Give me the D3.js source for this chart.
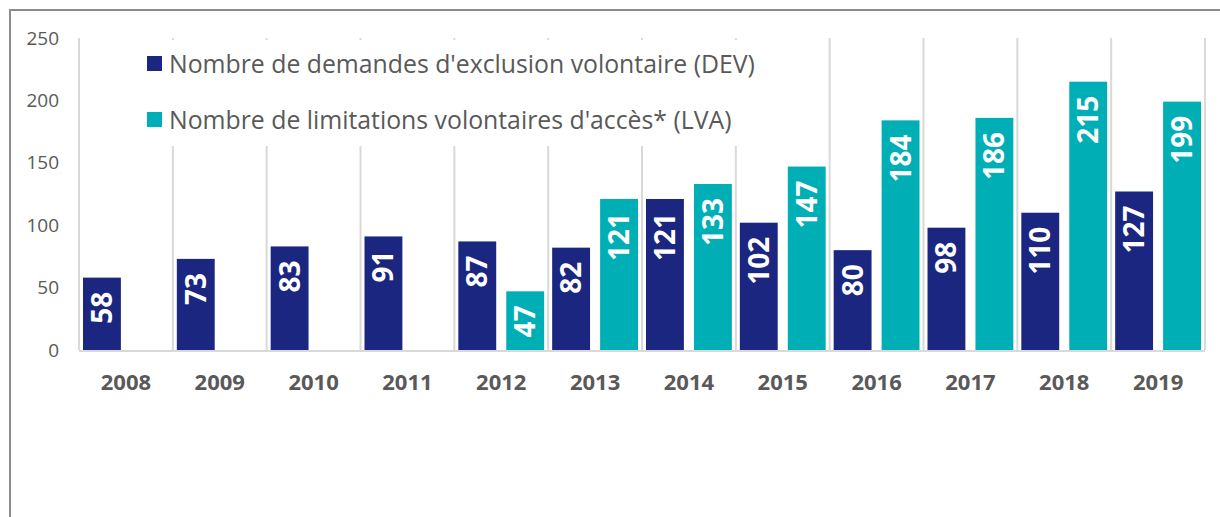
<!DOCTYPE html>
<html>
<head>
<meta charset="utf-8">
<script src="https://cdn.jsdelivr.net/npm/d3@7"></script>
<style>
  body { margin: 0; background: #fff; }
  svg text { font-family: "Open Sans", "Segoe UI", sans-serif; }
</style>
</head>
<body>
<svg id="chart"></svg>
<script>
// data
var years = ["2008", "2009", "2010", "2011", "2012", "2013", "2014", "2015", "2016", "2017", "2018", "2019"];
var devValues = [58, 73, 83, 91, 87, 82, 121, 102, 80, 98, 110, 127];
var lvaValues = [null, null, null, null, 47, 121, 133, 147, 184, 186, 215, 199];
var yTicks = [0, 50, 100, 150, 200, 250];
var seriesNames = ["Nombre de demandes d'exclusion volontaire (DEV)", "Nombre de limitations volontaires d'accès* (LVA)"];
var seriesKeys = ["dev", "lva"];
var seriesColors = ["#1a267f", "#00aeb6"];

var width = 1220, height = 517;
var margin = {left: 79, right: 15, top: 38, bottom: 167};

var svg = d3.select('#chart')
    .attr('width', width)
    .attr('height', height);

// outer frame
svg.append('rect')
    .attr('x', 10).attr('y', 10)
    .attr('width', width).attr('height', height)
    .style('fill', 'none')
    .style('stroke', '#8c8c8c')
    .style('stroke-width', 2);

var rows = years.map(function (y, i) {
    return {year: y, dev: devValues[i], lva: lvaValues[i]};
});

var x0 = d3.scaleBand()
    .domain(years)
    .range([margin.left, width - margin.right])
    .paddingInner(0)
    .paddingOuter(0);

var x1 = d3.scaleBand()
    .domain(seriesKeys)
    .range([4, x0.bandwidth() - 4])
    .paddingInner(0.21);

var y = d3.scaleLinear()
    .domain([0, 250])
    .range([350, margin.top]);

var color = d3.scaleOrdinal().domain(seriesKeys).range(seriesColors);

// vertical separators between categories
var bounds = years.map(function (d) { return x0(d); }).concat([x0.range()[1]]);
svg.selectAll('.sep')
    .data(bounds)
    .enter().append('line')
    .attr('class', 'sep')
    .attr('x1', d => d).attr('x2', d => d)
    .attr('y1', y(250)).attr('y2', y(0))
    .style('stroke', '#d9d9d9')
    .style('stroke-width', 2);

// baseline
svg.append('line')
    .attr('x1', x0.range()[0]).attr('x2', x0.range()[1])
    .attr('y1', y(0) + 1).attr('y2', y(0) + 1)
    .style('stroke', '#d9d9d9')
    .style('stroke-width', 2);

// y axis labels
var yAxis = d3.axisLeft(y).tickValues(yTicks).tickSize(0).tickPadding(20);
var yg = svg.append('g')
    .attr('transform', 'translate(' + margin.left + ',0)')
    .call(yAxis);
yg.select('.domain').remove();
yg.selectAll('text')
    .style('font-size', '19px')
    .style('fill', '#595959')
    .style('font-family', '"Open Sans", sans-serif');

// x axis labels
var xAxis = d3.axisBottom(x0).tickSize(0).tickPadding(24);
var xg = svg.append('g')
    .attr('transform', 'translate(0,' + y(0) + ')')
    .call(xAxis);
xg.select('.domain').remove();
xg.selectAll('text')
    .style('font-size', '22px')
    .style('font-weight', 'bold')
    .style('fill', '#595959')
    .style('font-family', '"Open Sans", sans-serif');

// bars
var groups = svg.selectAll('.grp')
    .data(rows)
    .enter().append('g')
    .attr('class', 'grp')
    .attr('transform', d => 'translate(' + x0(d.year) + ',0)');

var cells = groups.selectAll('.cell')
    .data(d => seriesKeys.map(k => ({key: k, value: d[k]})).filter(c => c.value != null))
    .enter().append('g')
    .attr('class', 'cell');

cells.append('rect')
    .attr('x', d => x1(d.key))
    .attr('width', x1.bandwidth())
    .attr('y', d => y(d.value))
    .attr('height', d => y(0) - y(d.value))
    .style('fill', d => color(d.key));

// value labels, rotated, inside end
cells.append('text')
    .attr('transform', d => 'translate(' + (x1(d.key) + x1.bandwidth() / 2 + 10) + ',' + (y(d.value) + 14) + ') rotate(-90)')
    .attr('text-anchor', 'end')
    .style('font-size', '28px')
    .style('font-weight', 'bold')
    .style('fill', '#fff')
    .text(d => d.value);

// legend with white background
var legend = svg.append('g');
legend.append('rect')
    .attr('x', 135).attr('y', 40)
    .attr('width', 660).attr('height', 106)
    .style('fill', '#fff');

var items = legend.selectAll('.item')
    .data(seriesKeys)
    .enter().append('g')
    .attr('class', 'item')
    .attr('transform', (d, i) => 'translate(147,' + (64 + i * 56) + ')');

items.append('rect')
    .attr('x', 0).attr('y', -8)
    .attr('width', 15).attr('height', 15)
    .style('fill', d => color(d));

items.append('text')
    .attr('x', 22).attr('y', 0)
    .attr('dy', '0.35em')
    .style('font-size', '24.8px')
    .style('fill', '#595959')
    .text((d, i) => seriesNames[i]);
</script>
</body>
</html>
